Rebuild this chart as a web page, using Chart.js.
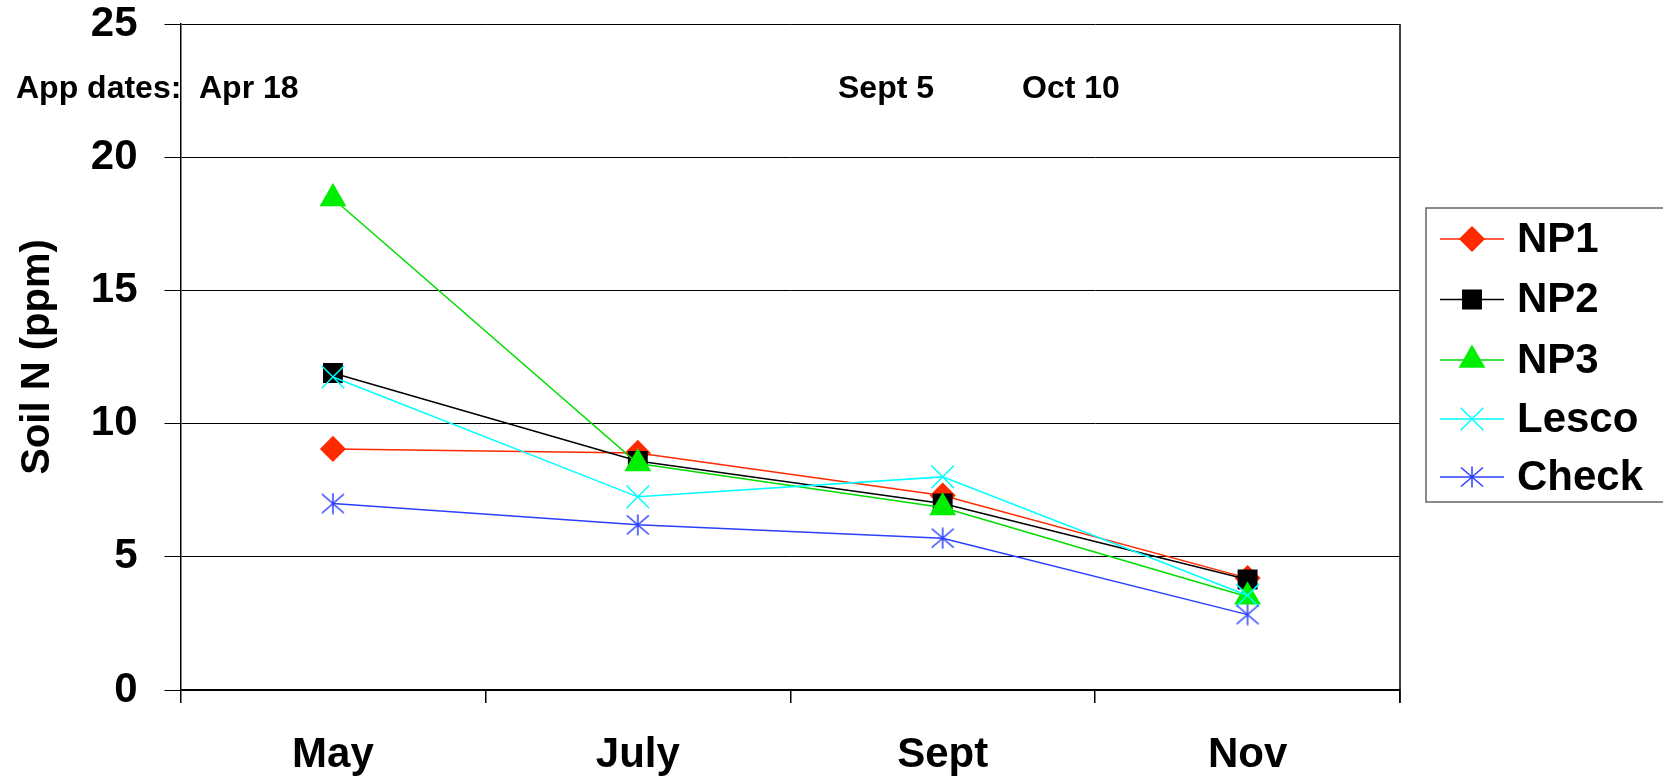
<!DOCTYPE html>
<html>
<head>
<meta charset="utf-8">
<script src="https://cdn.jsdelivr.net/npm/chart.js@4/dist/chart.umd.min.js"></script>
<style>
html,body{margin:0;padding:0;background:#fff;}
#wrap{width:1663px;height:776px;position:relative;}
</style>
</head>
<body>
<div id="wrap"><canvas id="c" width="1663" height="776"></canvas></div>
<script>
const categories = ["May", "July", "Sept", "Nov"];
const seriesNames = ["NP1", "NP2", "NP3", "Lesco", "Check"];
const np1 = [9.05, 8.9, 7.3, 4.2];
const np2 = [11.9, 8.6, 7.0, 4.15];
const np3 = [18.45, 8.5, 6.85, 3.5];
const lesco = [11.75, 7.25, 8.0, 3.55];
const check = [7.0, 6.2, 5.7, 2.83];
const yTicks = [0, 5, 10, 15, 20, 25];
const appDateLabels = ["App dates:", "Apr 18", "Sept 5", "Oct 10"];

const FONT = "'Liberation Sans', Arial, sans-serif";

// asterisk marker (vertical + X) for Check
function makeAsterisk(color) {
  const cv = document.createElement('canvas');
  cv.width = 24; cv.height = 22;
  const g = cv.getContext('2d');
  g.strokeStyle = color; g.lineWidth = 1.5;
  g.beginPath();
  g.moveTo(12, 0.5); g.lineTo(12, 21.5);
  g.moveTo(1, 1.5); g.lineTo(23, 20.5);
  g.moveTo(23, 1.5); g.lineTo(1, 20.5);
  g.stroke();
  return cv;
}
const checkColor = '#2a3fff';
const asterisk = makeAsterisk(checkColor);

const dsStyle = [
  {color:'#ff2a00', fill:'#ff2a00', style:'rectRot', r:12},
  {color:'#000000', fill:'#000000', style:'rect', r:13},
  {color:'#00dd00', fill:'#00ee00', style:'triangle', r:14},
  {color:'#00ffff', fill:'#00ffff', style:'crossRot', r:16},
  {color:checkColor, fill:checkColor, style:asterisk, r:12}
];
const values = [np1, np2, np3, lesco, check];

const datasets = seriesNames.map((n, i) => ({
  label: n,
  data: values[i],
  borderColor: dsStyle[i].color,
  backgroundColor: dsStyle[i].fill,
  pointBorderColor: i === 2 ? '#00ee00' : dsStyle[i].color,
  pointBackgroundColor: dsStyle[i].fill,
  pointStyle: dsStyle[i].style,
  pointRadius: dsStyle[i].r,
  pointHoverRadius: dsStyle[i].r,
  pointBorderWidth: 1.5,
  borderWidth: 1.5,
  tension: 0,
  order: seriesNames.length - i
}));

const extras = {
  id: 'extras',
  afterDraw(chart) {
    const ctx = chart.ctx;
    const a = chart.chartArea;
    ctx.save();
    // right border of plot area
    ctx.strokeStyle = '#000'; ctx.lineWidth = 1.5;
    ctx.beginPath(); ctx.moveTo(a.right, a.top); ctx.lineTo(a.right, a.bottom + 13); ctx.stroke();
    // app dates
    ctx.fillStyle = '#000';
    ctx.font = "bold 32px " + FONT;
    ctx.textBaseline = 'middle'; ctx.textAlign = 'left';
    const ax = [16, 199, 838, 1022];
    appDateLabels.forEach((t, i) => ctx.fillText(t, ax[i], 89));
    // legend
    ctx.strokeStyle = '#666'; ctx.lineWidth = 1.5;
    ctx.strokeRect(1426, 208, 300, 294);
    const rows = [239, 299.5, 360, 419, 477];
    chart.data.datasets.forEach((d, i) => {
      const y = rows[i];
      ctx.strokeStyle = d.borderColor; ctx.lineWidth = 1.5;
      ctx.beginPath(); ctx.moveTo(1440, y); ctx.lineTo(1504, y); ctx.stroke();
      ctx.fillStyle = d.pointBackgroundColor; ctx.strokeStyle = d.pointBorderColor;
      Chart.helpers.drawPoint(ctx, {pointStyle: d.pointStyle, radius: d.pointRadius, borderWidth: 1.5, rotation: 0}, 1472, y);
      ctx.fillStyle = '#000';
      ctx.font = "bold 42px " + FONT;
      ctx.textBaseline = 'middle'; ctx.textAlign = 'left';
      ctx.fillText(d.label, 1517, y + 1);
    });
    ctx.restore();
  }
};

new Chart(document.getElementById('c'), {
  type: 'line',
  data: { labels: categories, datasets },
  options: {
    responsive: false,
    animation: false,
    events: [],
    layout: { padding: { left: 0, right: 263, top: 24, bottom: 0 } },
    plugins: { legend: { display: false }, tooltip: { enabled: false } },
    scales: {
      x: {
        type: 'category',
        offset: true,
        grid: { display: true, drawOnChartArea: false, drawTicks: true, tickLength: 13, color: '#000', lineWidth: 1.5, offset: true },
        border: { display: true, color: '#000', width: 1.5 },
        ticks: { color: '#000', font: { family: FONT, size: 42, weight: 'bold', lineHeight: 1 }, padding: 31, maxRotation: 0 },
        afterFit(s) { s.height = 86; s.paddingLeft = 0; s.paddingRight = 0; }
      },
      y: {
        min: 0, max: 25,
        afterBuildTicks(s) { s.ticks = yTicks.map(v => ({ value: v })); },
        grid: { color: '#000', lineWidth: 1, tickLength: 16, drawTicks: true },
        border: { display: true, color: '#000', width: 1.5 },
        ticks: { color: '#000', font: { family: FONT, size: 42, weight: 'bold', lineHeight: 1 }, padding: 27 },
        title: { display: true, text: 'Soil N (ppm)', color: '#000', font: { family: FONT, size: 40, weight: 'bold', lineHeight: 1.2 }, padding: { top: 14, bottom: 0 } },
        afterFit(s) { s.width = 180.5; s.paddingTop = 0; s.paddingBottom = 0; }
      }
    }
  },
  plugins: [extras]
});
</script>
</body>
</html>
